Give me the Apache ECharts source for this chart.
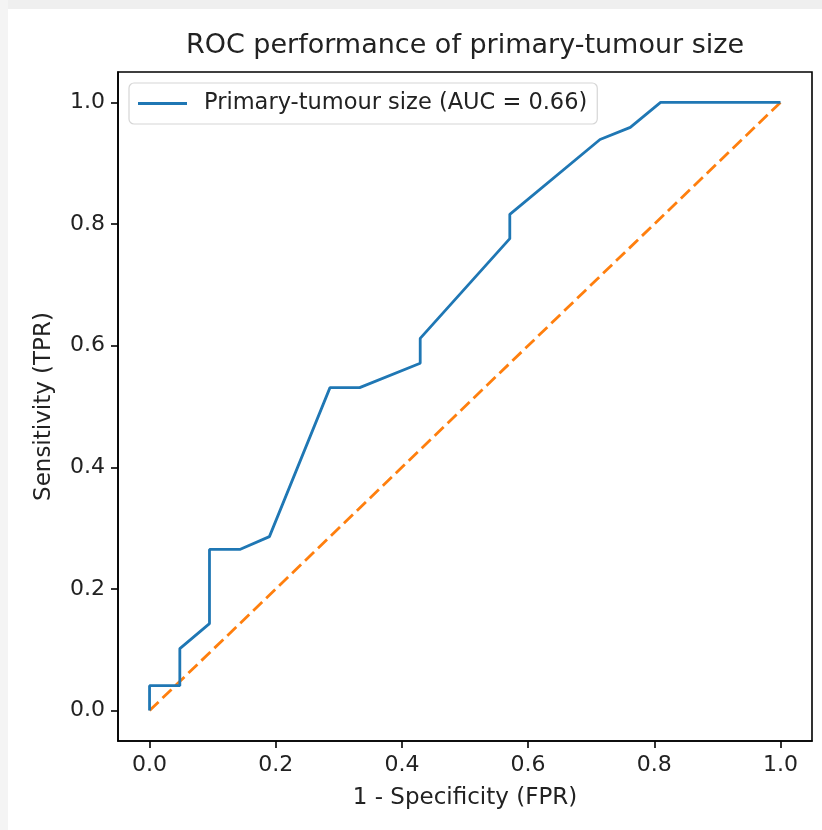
<!DOCTYPE html>
<html>
<head>
<meta charset="utf-8">
<script src="https://cdn.jsdelivr.net/npm/echarts@6/dist/echarts.min.js"></script>
<style>
  html, body { margin: 0; padding: 0; background: #ffffff; }
  #chart { width: 822px; height: 830px; }
</style>
</head>
<body>
<div id="chart"></div>
<script>
// ---- data ----
const fpr = [0.0, 0.0, 0.048, 0.048, 0.095, 0.095, 0.143, 0.190, 0.286, 0.333, 0.429, 0.429, 0.571, 0.571, 0.714, 0.762, 0.810, 1.0];
const tpr = [0.0, 0.041, 0.041, 0.102, 0.143, 0.265, 0.265, 0.286, 0.531, 0.531, 0.571, 0.612, 0.776, 0.816, 0.939, 0.959, 1.0, 1.0];
const chanceX = [0.0, 1.0];
const chanceY = [0.0, 1.0];
const tickValues = [0.0, 0.2, 0.4, 0.6, 0.8, 1.0];
const seriesName = 'Primary-tumour size (AUC = 0.66)';
const titleText = 'ROC performance of primary-tumour size';
const xName = '1 - Specificity (FPR)';
const yName = 'Sensitivity (TPR)';

const FONT = 'DejaVu Sans';
const TXT = '#222222';

const chart = echarts.init(document.getElementById('chart'), null, { renderer: 'canvas' });

const rocData = fpr.map((x, i) => [x, tpr[i]]);
const chanceData = chanceX.map((x, i) => [x, chanceY[i]]);

function axisCommon(name, nameGap, nameRotate) {
  return {
    type: 'value',
    min: -0.05,
    max: 1.05,
    name: name,
    nameLocation: 'middle',
    nameGap: nameGap,
    nameRotate: nameRotate,
    nameTextStyle: { fontFamily: FONT, fontSize: 23, color: TXT },
    axisLine: { show: true, onZero: false, lineStyle: { color: '#000', width: 1.6 } },
    axisTick: { show: true, inside: false, length: 7, customValues: tickValues, lineStyle: { color: '#000', width: 1.6 } },
    axisLabel: {
      show: true, margin: 13, customValues: tickValues,
      fontFamily: FONT, fontSize: 22, color: TXT,
      formatter: v => Number(v).toFixed(1)
    },
    splitLine: { show: false }
  };
}

const option = {
  backgroundColor: '#ffffff',
  animation: false,
  title: {
    text: titleText,
    left: 465,
    textAlign: 'center',
    top: 32,
    padding: 0,
    textStyle: { fontFamily: FONT, fontSize: 27, fontWeight: 'normal', color: TXT }
  },
  legend: {
    data: [{ name: seriesName, icon: 'rect' }],
    left: 129,
    top: 83,
    orient: 'vertical',
    padding: [9, 10, 9, 9],
    itemWidth: 49,
    itemHeight: 3,
    itemGap: 0,
    backgroundColor: 'rgba(255,255,255,0.85)',
    borderColor: '#d6d6d6',
    borderWidth: 1.2,
    borderRadius: 5,
    textStyle: { fontFamily: FONT, fontSize: 22.5, color: TXT, padding: [0, 0, 0, 12] }
  },
  grid: {
    show: true,
    left: 118, right: 10, top: 72, bottom: 89,
    borderColor: '#000', borderWidth: 1.6,
    backgroundColor: 'transparent',
    containLabel: false
  },
  xAxis: axisCommon(xName, 46, 0),
  yAxis: axisCommon(yName, 62, 90),
  series: [
    {
      name: seriesName,
      type: 'line',
      data: rocData,
      symbol: 'none',
      showSymbol: false,
      lineStyle: { color: '#1f77b4', width: 2.8 },
      itemStyle: { color: '#1f77b4' },
      z: 3
    },
    {
      name: 'chance',
      type: 'line',
      data: chanceData,
      symbol: 'none',
      showSymbol: false,
      lineStyle: { color: '#ff7f0e', width: 2.8, type: [12.5, 5.5] },
      itemStyle: { color: '#ff7f0e' },
      z: 2
    }
  ],
  graphic: [
    { type: 'rect', shape: { x: 0, y: 0, width: 822, height: 9 }, style: { fill: '#efefef' }, silent: true, z: -1 },
    { type: 'rect', shape: { x: 0, y: 0, width: 8, height: 830 }, style: { fill: '#f4f4f4' }, silent: true, z: -1 }
  ]
};

chart.setOption(option);
</script>
</body>
</html>
